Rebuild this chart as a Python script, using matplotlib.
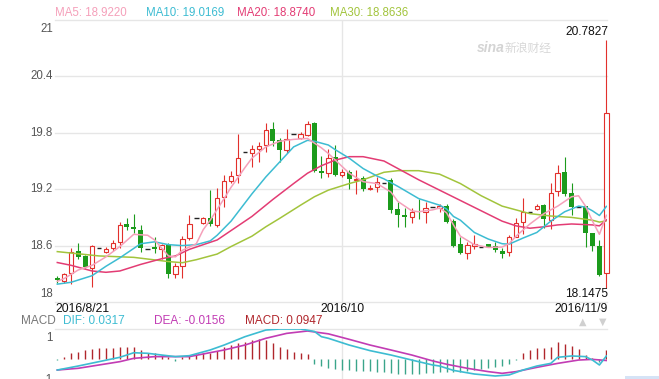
import numpy as np
import matplotlib.pyplot as plt
from matplotlib.patches import Rectangle

plt.rcParams['font.family'] = ['Liberation Sans', 'DejaVu Sans']

# daily candles, index 0 = 2016/8/21
opens = [18.252, 18.227, 18.305, 18.546, 18.489, 18.358, 18.571, 18.536, 18.571, 18.635,
         18.830, 18.801, 18.766, 18.567, 18.589, 18.560, 18.617, 18.294, 18.387, 18.677,
         18.894, 18.844, 18.897, 18.819, 19.113, 19.291, 19.351, 19.592, 19.589, 19.624,
         19.670, 19.840, 19.723, 19.617, 19.787, 19.741, 19.777, 19.901, 19.397, 19.369,
         19.539, 19.351, 19.387, 19.298, 19.316, 19.206, 19.220, 19.270, 19.298, 18.986,
         18.926, 18.908, 18.972, 18.954, 19.007, 19.004, 19.021, 18.865, 18.617, 18.518,
         18.599, 18.589, 18.613, 18.599, 18.543, 18.528, 18.695, 18.855, 18.954, 18.993,
         19.028, 18.873, 19.185, 19.387, 19.163, 19.007, 19.021, 18.731, 18.596, 18.305]
highs = [18.277, 18.312, 18.571, 18.631, 18.500, 18.606, 18.571, 18.589, 18.660, 18.854,
         18.890, 18.933, 18.819, 18.567, 18.688, 18.617, 18.631, 18.411, 18.702, 18.926,
         18.894, 18.908, 19.192, 19.209, 19.351, 19.397, 19.787, 19.592, 19.670, 19.706,
         19.901, 19.918, 19.741, 19.837, 19.787, 19.812, 19.929, 19.918, 19.553, 19.624,
         19.670, 19.411, 19.404, 19.404, 19.340, 19.245, 19.333, 19.270, 19.316, 19.068,
         18.997, 18.997, 19.092, 19.068, 19.007, 19.039, 19.043, 18.880, 18.695, 18.642,
         18.713, 18.589, 18.620, 18.642, 18.571, 18.713, 18.890, 19.103, 18.954, 19.043,
         19.043, 19.262, 19.457, 19.546, 19.269, 19.007, 19.021, 18.738, 18.660, 20.7827]
lows = [18.206, 18.206, 18.191, 18.454, 18.358, 18.160, 18.571, 18.518, 18.546, 18.571,
        18.766, 18.731, 18.535, 18.567, 18.525, 18.454, 18.252, 18.252, 18.252, 18.660,
        18.894, 18.830, 18.808, 18.801, 19.007, 19.262, 19.262, 19.592, 19.440, 19.493,
        19.599, 19.663, 19.493, 19.582, 19.787, 19.731, 19.766, 19.387, 19.316, 19.326,
        19.340, 19.333, 19.199, 19.145, 19.184, 19.192, 19.174, 19.270, 18.943, 18.794,
        18.801, 18.837, 18.880, 18.837, 19.007, 18.954, 18.844, 18.589, 18.511, 18.454,
        18.560, 18.589, 18.585, 18.535, 18.465, 18.489, 18.695, 18.723, 18.954, 18.979,
        18.784, 18.773, 19.128, 19.128, 18.926, 19.007, 18.582, 18.546, 18.277, 18.1475]
closes = [18.231, 18.298, 18.536, 18.482, 18.376, 18.596, 18.571, 18.567, 18.631, 18.819,
          18.794, 18.773, 18.578, 18.567, 18.560, 18.606, 18.294, 18.387, 18.667, 18.826,
          18.894, 18.890, 18.826, 19.103, 19.287, 19.340, 19.528, 19.592, 19.624, 19.660,
          19.830, 19.716, 19.617, 19.730, 19.787, 19.787, 19.894, 19.394, 19.369, 19.528,
          19.351, 19.387, 19.305, 19.312, 19.199, 19.213, 19.277, 19.270, 18.979, 18.926,
          18.908, 18.961, 18.958, 18.997, 19.007, 19.025, 18.855, 18.599, 18.518, 18.606,
          18.613, 18.589, 18.589, 18.553, 18.511, 18.695, 18.844, 18.961, 18.954, 19.021,
          18.880, 19.163, 19.369, 19.149, 19.014, 19.007, 18.731, 18.596, 18.287, 20.007]

# moving averages (candle index, value)
ma5_idx = [0, 1, 3, 5, 7, 9, 11, 13, 14, 16, 17, 18, 20, 21, 22, 24, 25, 27, 28, 30,
           32, 34, 36, 37, 38, 39, 40, 42, 44, 46, 48, 49, 51, 52, 54, 55, 56, 57, 58, 60,
           62, 64, 65, 66, 68, 70, 72, 74, 75, 76, 77, 78, 79]
ma5 = [18.22, 18.25, 18.34, 18.39, 18.48, 18.59, 18.72, 18.71, 18.66, 18.49, 18.48, 18.55, 18.62,
       18.77, 18.87, 19.10, 19.22, 19.43, 19.53, 19.65, 19.71, 19.73, 19.74, 19.69, 19.64, 19.58,
       19.51, 19.37, 19.28, 19.26, 19.17, 19.07, 18.97, 18.96, 18.98, 19.00, 18.95, 18.82, 18.70,
       18.61, 18.58, 18.585, 18.62, 18.70, 18.83, 18.94, 19.02, 19.12, 19.13, 19.02, 18.86, 18.72,
       18.9220]
ma10_idx = [0, 2, 5, 7, 9, 12, 14, 16, 18, 20, 22, 23, 25, 28, 30, 32, 34, 36, 37, 38,
            39, 40, 42, 44, 46, 47, 49, 52, 55, 56, 57, 58, 60, 62, 64, 65, 67, 69, 71, 73,
            75, 76, 77, 78, 79]
ma10 = [18.19, 18.21, 18.28, 18.38, 18.47, 18.62, 18.64, 18.61, 18.60, 18.61, 18.65, 18.71,
        18.86, 19.15, 19.33, 19.49, 19.65, 19.72, 19.71, 19.69, 19.67, 19.62, 19.53, 19.42,
        19.34, 19.31, 19.23, 19.10, 19.03, 18.99, 18.91, 18.87, 18.74, 18.67, 18.62, 18.615,
        18.68, 18.74, 18.86, 18.96, 19.02, 19.01, 18.97, 18.92, 19.0169]
ma20_idx = [0, 2, 5, 7, 9, 12, 15, 17, 19, 21, 23, 25, 28, 31, 34, 36, 38, 40, 42, 44,
            47, 49, 52, 55, 58, 61, 64, 66, 68, 70, 72, 74, 77, 78, 79]
ma20 = [18.42, 18.39, 18.33, 18.316, 18.33, 18.40, 18.46, 18.49, 18.56, 18.61, 18.66, 18.76,
        18.91, 19.09, 19.26, 19.37, 19.45, 19.51, 19.546, 19.546, 19.50, 19.42, 19.30, 19.19,
        19.08, 18.97, 18.86, 18.81, 18.785, 18.80, 18.82, 18.83, 18.82, 18.81, 18.8740]
ma30_idx = [0, 6, 11, 16, 18, 20, 23, 25, 28, 30, 32, 35, 37, 39, 42, 44, 47, 49, 52, 55,
            58, 61, 64, 66, 68, 71, 74, 77, 78, 79]
ma30 = [18.536, 18.49, 18.475, 18.43, 18.418, 18.45, 18.51, 18.59, 18.70, 18.80, 18.89, 19.03,
        19.12, 19.19, 19.26, 19.30, 19.38, 19.397, 19.397, 19.36, 19.26, 19.13, 19.02, 18.98,
        18.94, 18.915, 18.90, 18.87, 18.85, 18.8636]

# MACD panel
macd_hist = [-0.01, 0.02, 0.06, 0.077, 0.095, 0.105, 0.112, 0.112, 0.12, 0.13,
             0.13, 0.13, 0.095, 0.067, 0.06, 0.042, 0.02, -0.025, 0.02, 0.04,
             0.05, 0.06, 0.067, 0.088, 0.13, 0.147, 0.165, 0.182, 0.2, 0.207,
             0.2, 0.165, 0.13, 0.105, 0.077, 0.06, 0.05, -0.05, -0.07, -0.09,
             -0.11, -0.12, -0.12, -0.125, -0.13, -0.13, -0.135, -0.14, -0.15, -0.155,
             -0.16, -0.16, -0.155, -0.15, -0.145, -0.14, -0.14, -0.14, -0.135, -0.13,
             -0.12, -0.11, -0.1, -0.085, -0.07, -0.05, -0.01, 0.067, 0.095, 0.112,
             0.112, 0.13, 0.175, 0.158, 0.137, 0.105, 0.042, 0.01, -0.03, 0.0947]
dif_idx = [0, 3, 6, 9, 11, 13, 15, 17, 19, 20, 22, 24, 27, 30, 32, 35, 37, 38, 39, 42,
           45, 48, 51, 54, 55, 57, 60, 63, 65, 67, 69, 71, 72, 74, 76, 77, 78, 79]
dif = [-0.116, -0.074, -0.028, 0.018, 0.066, 0.06, 0.042, 0.025, 0.035, 0.055, 0.095, 0.147,
       0.235, 0.305, 0.316, 0.316, 0.29, 0.235, 0.218, 0.147, 0.088, 0.042, -0.011, -0.063,
       -0.074, -0.12, -0.158, -0.179, -0.168, -0.116, -0.074, -0.046, 0.018, 0.032, 0.025,
       -0.011, -0.063, 0.0317]
dea_idx = [0, 3, 6, 9, 11, 14, 17, 19, 21, 24, 27, 30, 33, 36, 39, 42, 45, 48, 51, 54,
           56, 59, 62, 64, 66, 69, 72, 75, 77, 79]
dea = [-0.116, -0.098, -0.063, -0.028, 0.007, 0.025, 0.025, 0.025, 0.053, 0.095, 0.147, 0.218,
       0.27, 0.295, 0.265, 0.207, 0.147, 0.095, 0.042, -0.02, -0.055, -0.098, -0.133, -0.151,
       -0.133, -0.088, -0.046, -0.011, -0.004, -0.0156]

price_ticks = [21, 20.4, 19.8, 19.2, 18.6, 18]
date_labels = ['2016/8/21', '2016/10', '2016/11/9']
oct_idx = 41

red = '#e2302c'
green = '#1c9b1c'
c_ma5, c_ma10, c_ma20, c_ma30 = '#f5a0ba', '#3dbcd2', '#e33c74', '#a2c43c'
c_dif, c_dea, c_macd = '#3dbcd2', '#c23cb4', '#b0262c'
grid = '#e6e6e6'

W, H = 659, 379
fig = plt.figure(figsize=(W / 100, H / 100), dpi=100)


def fx(px):
    return px / W


def fy(py):
    return 1 - py / H


ax = fig.add_axes([fx(55), fy(302), (607 - 55) / W, (302 - 20) / H])
ax.set_xlim(-0.33, 79.09)
ax.set_ylim(18, 21)
ax.set_axis_off()
for v in price_ticks:
    ax.axhline(v, color=grid, lw=1, zorder=0, clip_on=False)
ax.axvline(oct_idx, color=grid, lw=1, zorder=0)

x = np.arange(len(closes))
o, h, l, c = map(np.array, (opens, highs, lows, closes))
up = c > o
dn = c < o
flat = c == o
ax.vlines(x[up], l[up], h[up], color=red, lw=0.8, zorder=2, clip_on=False)
ax.vlines(x[dn], l[dn], h[dn], color=green, lw=0.8, zorder=2, clip_on=False)
ax.bar(x[up], (c - o)[up], bottom=o[up], width=0.64, facecolor='white',
       edgecolor=red, lw=0.8, zorder=3, clip_on=False)
ax.bar(x[dn], (c - o)[dn], bottom=o[dn], width=0.7, color=green, lw=0, zorder=3,
       clip_on=False)
ax.hlines(c[flat], x[flat] - 0.32, x[flat] + 0.32, color='#222222', lw=1, zorder=3)

ax.plot(ma30_idx, ma30, color=c_ma30, lw=1.1, zorder=4)
ax.plot(ma20_idx, ma20, color=c_ma20, lw=1.1, zorder=4)
ax.plot(ma10_idx, ma10, color=c_ma10, lw=1.1, zorder=4)
ax.plot(ma5_idx, ma5, color=c_ma5, lw=1.1, zorder=4)

for v in price_ticks:
    dy = -6.5 if v == price_ticks[0] else (6 if v == price_ticks[-1] else 0)
    ax.annotate(f'{v:g}', (0, v), xycoords=('axes fraction', 'data'), xytext=(-1.5, dy),
                textcoords='offset points', ha='right', va='center', fontsize=8.3, color='#555555')

hi = int(np.argmax(h))
lo = int(np.argmin(l))
ax.annotate(f'{h[hi]:.4f}', (hi, h[hi]), xytext=(1.2, 5.8), textcoords='offset points',
            ha='right', va='center', fontsize=8.6, color='#111111')
ax.annotate(f'{l[lo]:.4f}', (lo, l[lo]), xytext=(1.2, -4.3), textcoords='offset points',
            ha='right', va='center', fontsize=8.6, color='#111111')

ax.annotate(date_labels[0], (0, 0), xycoords='axes fraction', xytext=(0, -5.4),
            textcoords='offset points', ha='left', va='center', fontsize=8.7, color='#111111')
ax.annotate(date_labels[1], (oct_idx, 0), xycoords=('data', 'axes fraction'), xytext=(0, -5.4),
            textcoords='offset points', ha='center', va='center', fontsize=8.7, color='#111111')
ax.annotate(date_labels[2], (1, 0), xycoords='axes fraction', xytext=(0.5, -5.4),
            textcoords='offset points', ha='right', va='center', fontsize=8.7, color='#111111')

# legends
fig.text(fx(55), fy(12.7), f'MA5: {ma5[-1]:.4f}', color=c_ma5, fontsize=8.3, va='center')
fig.text(fx(145.7), fy(12.7), f'MA10: {ma10[-1]:.4f}', color=c_ma10, fontsize=8.3, va='center')
fig.text(fx(237.3), fy(12.7), f'MA20: {ma20[-1]:.4f}', color=c_ma20, fontsize=8.3, va='center')
fig.text(fx(330), fy(12.7), f'MA30: {ma30[-1]:.4f}', color=c_ma30, fontsize=8.3, va='center')

# watermark
fig.text(fx(477), fy(48), 'sina', color='#d4d4d4', fontsize=10, style='italic',
         weight='bold', va='center')
fig.text(fx(505), fy(48), '新浪财经', color='#d8d8d8', fontsize=8.5, va='center',
         family=['Noto Sans CJK SC', 'DejaVu Sans'])

# MACD panel
ax2 = fig.add_axes([fx(55), fy(389), (607 - 55) / W, 60 / H])
ax2.set_xlim(-0.33, 79.09)
ax2.set_ylim(-0.316, 0.316)
ax2.set_axis_off()
ax2.axhline(0.316, color=grid, lw=1, zorder=0, clip_on=False)
ax2.axvline(oct_idx, color=grid, lw=1, zorder=0)
hist = np.array(macd_hist)
ax2.vlines(x, 0, hist, colors=np.where(hist >= 0, c_macd, '#3aa58a'), lw=1, zorder=2)
ax2.plot(dea_idx, dea, color=c_dea, lw=1.2, zorder=3)
ax2.plot(dif_idx, dif, color=c_dif, lw=1.2, zorder=3)

fig.text(fx(20.7), fy(320.7), 'MACD', color='#777777', fontsize=8.5, va='center')
fig.text(fx(63.3), fy(320.7), f'DIF: {dif[-1]:.4f}', color=c_dif, fontsize=8.5, va='center')
fig.text(fx(154.3), fy(320.7), f'DEA: {dea[-1]:.4f}', color=c_dea, fontsize=8.5, va='center')
fig.text(fx(245), fy(320.7), f'MACD: {macd_hist[-1]:.4f}', color=c_macd, fontsize=8.5, va='center')
fig.text(fx(52.5), fy(338), '1', color='#555555', fontsize=8.3, ha='right', va='center')
fig.text(fx(52.5), fy(380), '-1', color='#555555', fontsize=8.3, ha='right', va='center')

fig.text(fx(583), fy(322), '▲', color='#d0d0d0', fontsize=7, ha='center', va='center',
         family='DejaVu Sans')
fig.text(fx(603), fy(322), '▼', color='#d0d0d0', fontsize=7, ha='center', va='center',
         family='DejaVu Sans')
fig.patches.append(Rectangle((fx(625), 0), (659 - 625) / W, 3 / H, transform=fig.transFigure,
                             facecolor='#d5e3f6', edgecolor='none'))

fig.savefig('out.png', dpi=100)
